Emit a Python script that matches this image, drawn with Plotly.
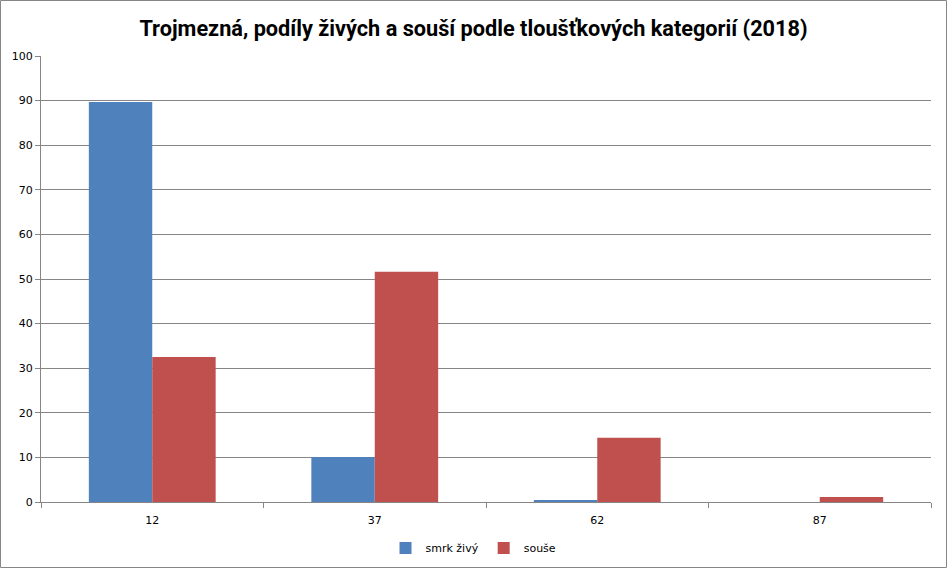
import plotly.graph_objects as go

categories = ["12", "37", "62", "87"]
smrk_zivy = [89.7, 10.1, 0.3, 0.0]
souse = [32.5, 51.6, 14.4, 1.1]
y_ticks = [0, 10, 20, 30, 40, 50, 60, 70, 80, 90, 100]

W, H = 947, 568
L, R, T, B = 41, 16, 56, 66
pw, ph = W - L - R, H - T - B

fig = go.Figure()
fig.add_trace(go.Bar(x=categories, y=smrk_zivy, name="smrk živý", marker_color="#4F81BD",
                     marker_line_width=0))
fig.add_trace(go.Bar(x=categories, y=souse, name="souše", marker_color="#C0504D",
                     marker_line_width=0))

fig.update_layout(
    template="none",
    width=W, height=H,
    margin=dict(l=L, r=R, t=T, b=B, autoexpand=False),
    paper_bgcolor="white", plot_bgcolor="white",
    barmode="group", bargap=0.43, bargroupgap=0,
    title=dict(text="<b>Trojmezná, podíly živých a souší podle tloušťkových kategorií (2018)</b>",
               x=0.5, xanchor="center", xref="container", y=1 - 28 / H, yanchor="middle",
               font=dict(family="Roboto", size=21.7, color="black")),
    font=dict(family="DejaVu Sans", size=11, color="black"),
    showlegend=True,
    legend=dict(orientation="h", x=0.5, xanchor="center", xref="container",
                yref="container", y=(H - 548) / H,
                yanchor="middle", font=dict(size=11), itemwidth=30, traceorder="normal",
                bgcolor="rgba(0,0,0,0)"),
    xaxis=dict(type="category", showline=True, linecolor="#868686", linewidth=1,
               ticks="outside", tickson="boundaries", ticklen=5, tickcolor="#868686",
               showgrid=False, tickfont=dict(size=11), automargin=False, ticklabelstandoff=8),
    yaxis=dict(range=[0, 100], tickvals=y_ticks, showline=True, linecolor="#868686", linewidth=1,
               ticks="outside", ticklen=5, tickcolor="#868686",
               showgrid=True, gridcolor="#868686", gridwidth=1, zeroline=False,
               tickfont=dict(size=11), automargin=False),
    shapes=[dict(type="rect", xref="paper", yref="paper",
                 x0=-(L - 0.5) / pw, x1=1 + (R - 0.5) / pw,
                 y0=-(B - 0.5) / ph, y1=1 + (T - 0.5) / ph,
                 line=dict(color="#868686", width=1))],
)

fig.write_html("out.html", config={"displayModeBar": False},
               post_script="document.body.style.margin='0';document.body.style.overflow='hidden';")
